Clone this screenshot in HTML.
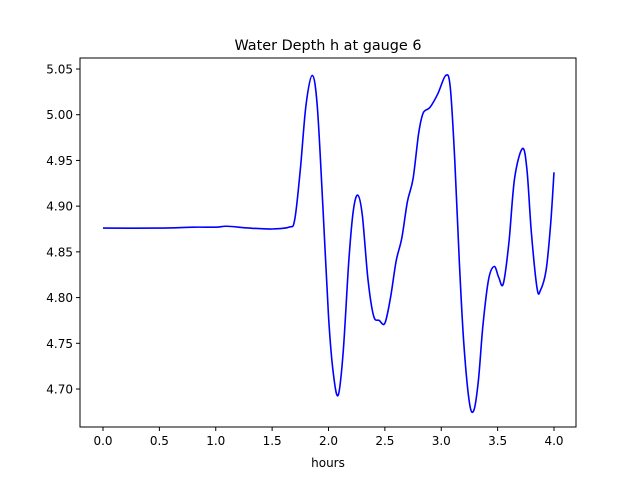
<!DOCTYPE html>
<html><head><meta charset="utf-8"><style>
body{margin:0;background:#fff;}
svg text{font-family:"DejaVu Sans","Liberation Sans",sans-serif;fill:#000;}
</style></head><body>
<svg id="chart" width="640" height="480" viewBox="0 0 640 480" xmlns="http://www.w3.org/2000/svg">
<rect width="640" height="480" fill="#fff"/>
<text x="328" y="50" font-size="14.4" text-anchor="middle">Water Depth h at gauge 6</text>
<g id="plot"></g>
<rect x="80" y="58" width="496" height="369" fill="none" stroke="#000" stroke-width="1"/>
<text x="328" y="467" font-size="12" text-anchor="middle">hours</text>
</svg>
<script>
const times=[0,0.5,0.8,1.0,1.1,1.3,1.5,1.65,1.7,1.75,1.8,1.855,1.9,1.95,2.0,2.04,2.085,2.13,2.18,2.22,2.26,2.3,2.35,2.4,2.45,2.5,2.55,2.6,2.65,2.7,2.75,2.8,2.84,2.9,2.97,3.04,3.08,3.12,3.16,3.2,3.25,3.29,3.33,3.37,3.42,3.47,3.51,3.55,3.6,3.65,3.72,3.76,3.8,3.85,3.88,3.93,3.97,4.0];
const depth=[4.876,4.876,4.877,4.877,4.878,4.876,4.875,4.877,4.885,4.94,5.01,5.043,5.01,4.90,4.78,4.72,4.693,4.74,4.84,4.895,4.912,4.89,4.82,4.78,4.775,4.772,4.80,4.84,4.865,4.905,4.93,4.98,5.002,5.008,5.023,5.043,5.03,4.95,4.84,4.75,4.685,4.677,4.71,4.77,4.82,4.834,4.822,4.815,4.86,4.93,4.963,4.94,4.87,4.81,4.808,4.83,4.88,4.937];
const xTicks=[0,0.5,1,1.5,2,2.5,3,3.5,4];
const xTickLabels=["0.0","0.5","1.0","1.5","2.0","2.5","3.0","3.5","4.0"];
const yTicks=[4.70,4.75,4.80,4.85,4.90,4.95,5.00,5.05];
const yTickLabels=["4.70","4.75","4.80","4.85","4.90","4.95","5.00","5.05"];
const NS="http://www.w3.org/2000/svg";
const xs=t=>103+t*112.75;
const ys=h=>69+(5.05-h)*914.3;
const svg=document.getElementById('chart');
function mk(tag,attrs){const e=document.createElementNS(NS,tag);for(const k in attrs)e.setAttribute(k,attrs[k]);svg.appendChild(e);return e;}
xTicks.forEach((t,i)=>{
  const l=mk('line',{x1:xs(t),x2:xs(t),y1:427,y2:431,stroke:'#000'});
  
  
  const tx=mk('text',{x:xs(t),y:445,'font-size':12,'text-anchor':'middle'});
  tx.textContent=xTickLabels[i];
  
  
});
yTicks.forEach((h,i)=>{
  const l=mk('line',{x1:76,x2:80,y1:ys(h),y2:ys(h),stroke:'#000'});
  
  
  const tx=mk('text',{x:73,y:ys(h)+4.5,'font-size':12,'text-anchor':'end'});
  tx.textContent=yTickLabels[i];
  
  
});
const P=times.map((t,i)=>[xs(t),ys(depth[i])]);
let d='M'+P[0][0]+','+P[0][1];
for(let i=0;i<P.length-1;i++){
  const p0=P[Math.max(0,i-1)],p1=P[i],p2=P[i+1],p3=P[Math.min(P.length-1,i+2)];
  const c1=[p1[0]+(p2[0]-p0[0])/6,p1[1]+(p2[1]-p0[1])/6];
  const c2=[p2[0]-(p3[0]-p1[0])/6,p2[1]-(p3[1]-p1[1])/6];
  d+=` C${c1[0]},${c1[1]} ${c2[0]},${c2[1]} ${p2[0]},${p2[1]}`;
}
const line=mk('path',{d:d,fill:'none',stroke:'#0000ff','stroke-width':1.6,'stroke-linejoin':'round'});


</script>
</body></html>
